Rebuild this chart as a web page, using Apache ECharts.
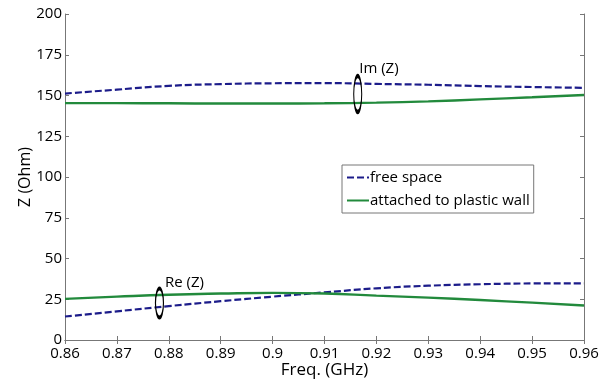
<!DOCTYPE html>
<html>
<head>
<meta charset="utf-8">
<script src="https://cdn.jsdelivr.net/npm/echarts@6/dist/echarts.min.js"></script>
<style>
  html, body { margin: 0; padding: 0; background: #fff; }
  #chart { width: 608px; height: 384px; }
</style>
</head>
<body>
<div id="chart"></div>
<script>
// frequencies (GHz)
const freq = [0.86, 0.87, 0.88, 0.89, 0.90, 0.91, 0.92, 0.93, 0.94, 0.95, 0.96]
// free space
const freeIm = [151.2, 153.6, 155.9, 157.0, 157.5, 157.6, 157.1, 156.6, 155.8, 155.2, 154.7]
const freeRe = [14.4, 17.6, 20.8, 23.8, 26.6, 29.2, 31.7, 33.3, 34.2, 34.7, 34.8]
// attached to plastic wall
const wallIm = [145.3, 145.3, 145.2, 145.1, 145.1, 145.2, 145.6, 146.4, 147.6, 148.9, 150.3]
const wallRe = [25.2, 26.6, 27.8, 28.5, 28.9, 28.5, 27.2, 26.0, 24.5, 22.9, 21.2]
// ellipse markers [freq, value, label]
const marks = [[0.9164, 150.9, 'Im (Z)'], [0.8782, 22.7, 'Re (Z)']]
const markSizes = [[8, 36], [8, 29]]
const markLabelPos = [[6, -5], [10, -4]]

const navy = '#1c1c8a'
const green = '#228a3c'
const font = 'Open Sans'
const txt = '#000'

const pairs = (ys) => freq.map((f, i) => [f, ys[i]])

const chart = echarts.init(document.getElementById('chart'))

const axisLine = { show: true, lineStyle: { color: '#777', width: 1 } }
const tick = { show: true, inside: true, length: 4, lineStyle: { color: '#777' } }

chart.setOption({
  animation: false,
  textStyle: { fontFamily: font },
  grid: { left: 65, right: 24, top: 14, bottom: 42 },
  legend: {
    orient: 'vertical',
    left: 342,
    top: 165,
    data: ['free space', 'attached to plastic wall'],
    borderColor: '#777',
    borderWidth: 1,
    borderRadius: 0,
    padding: [5, 4, 5, 4],
    itemWidth: 22,
    itemHeight: 12,
    itemGap: 8,
    itemStyle: { opacity: 0 },
    textStyle: { fontFamily: font, fontSize: 15, color: txt, padding: [0, 0, 0, -4] }
  },
  xAxis: [
    {
      type: 'value', min: 0.86, max: 0.96, interval: 0.01,
      name: 'Freq. (GHz)', nameLocation: 'middle', nameGap: 22, nameMoveOverlap: false,
      nameTextStyle: { fontSize: 17, color: txt, fontFamily: font },
      axisLine, axisTick: tick, splitLine: { show: false },
      axisLabel: { fontSize: 15, color: txt, margin: 6, formatter: v => +v.toFixed(2) + '' }
    },
    {
      type: 'value', position: 'top', min: 0.86, max: 0.96, interval: 0.01,
      axisLine, axisTick: tick, splitLine: { show: false }, axisLabel: { show: false }
    }
  ],
  yAxis: [
    {
      type: 'value', min: 0, max: 200, interval: 25,
      name: 'Z (Ohm)', nameLocation: 'middle', nameGap: 32, nameMoveOverlap: false,
      nameTextStyle: { fontSize: 16, color: txt, fontFamily: font },
      axisLine, axisTick: tick, splitLine: { show: false },
      axisLabel: { fontSize: 15, color: txt, margin: 3 }
    },
    {
      type: 'value', position: 'right', min: 0, max: 200, interval: 25,
      axisLine, axisTick: tick, splitLine: { show: false }, axisLabel: { show: false }
    }
  ],
  series: [
    {
      name: 'free space', type: 'line', smooth: true, symbol: 'none',
      data: pairs(freeIm), itemStyle: { color: navy },
      lineStyle: { color: navy, width: 2.2, type: [7, 3] }
    },
    {
      name: 'free space', type: 'line', smooth: true, symbol: 'none',
      data: pairs(freeRe), itemStyle: { color: navy },
      lineStyle: { color: navy, width: 2.2, type: [7, 3] }
    },
    {
      name: 'attached to plastic wall', type: 'line', smooth: true, symbol: 'none',
      data: pairs(wallIm), itemStyle: { color: green },
      lineStyle: { color: green, width: 2.4 }
    },
    {
      name: 'attached to plastic wall', type: 'line', smooth: true, symbol: 'none',
      data: pairs(wallRe), itemStyle: { color: green },
      lineStyle: { color: green, width: 2.4 }
    },
    {
      type: 'scatter', symbol: 'circle', z: 5,
      data: marks.map((m, i) => ({
        value: [m[0], m[1]],
        symbolSize: markSizes[i],
        label: {
          show: true, formatter: m[2], position: markLabelPos[i],
          align: 'left', verticalAlign: 'middle',
          fontSize: 15, color: txt, fontFamily: font
        }
      })),
      itemStyle: { color: 'rgba(0,0,0,0)', borderColor: '#000', borderWidth: 2.2, opacity: 1 }
    }
  ]
})
</script>
</body>
</html>
